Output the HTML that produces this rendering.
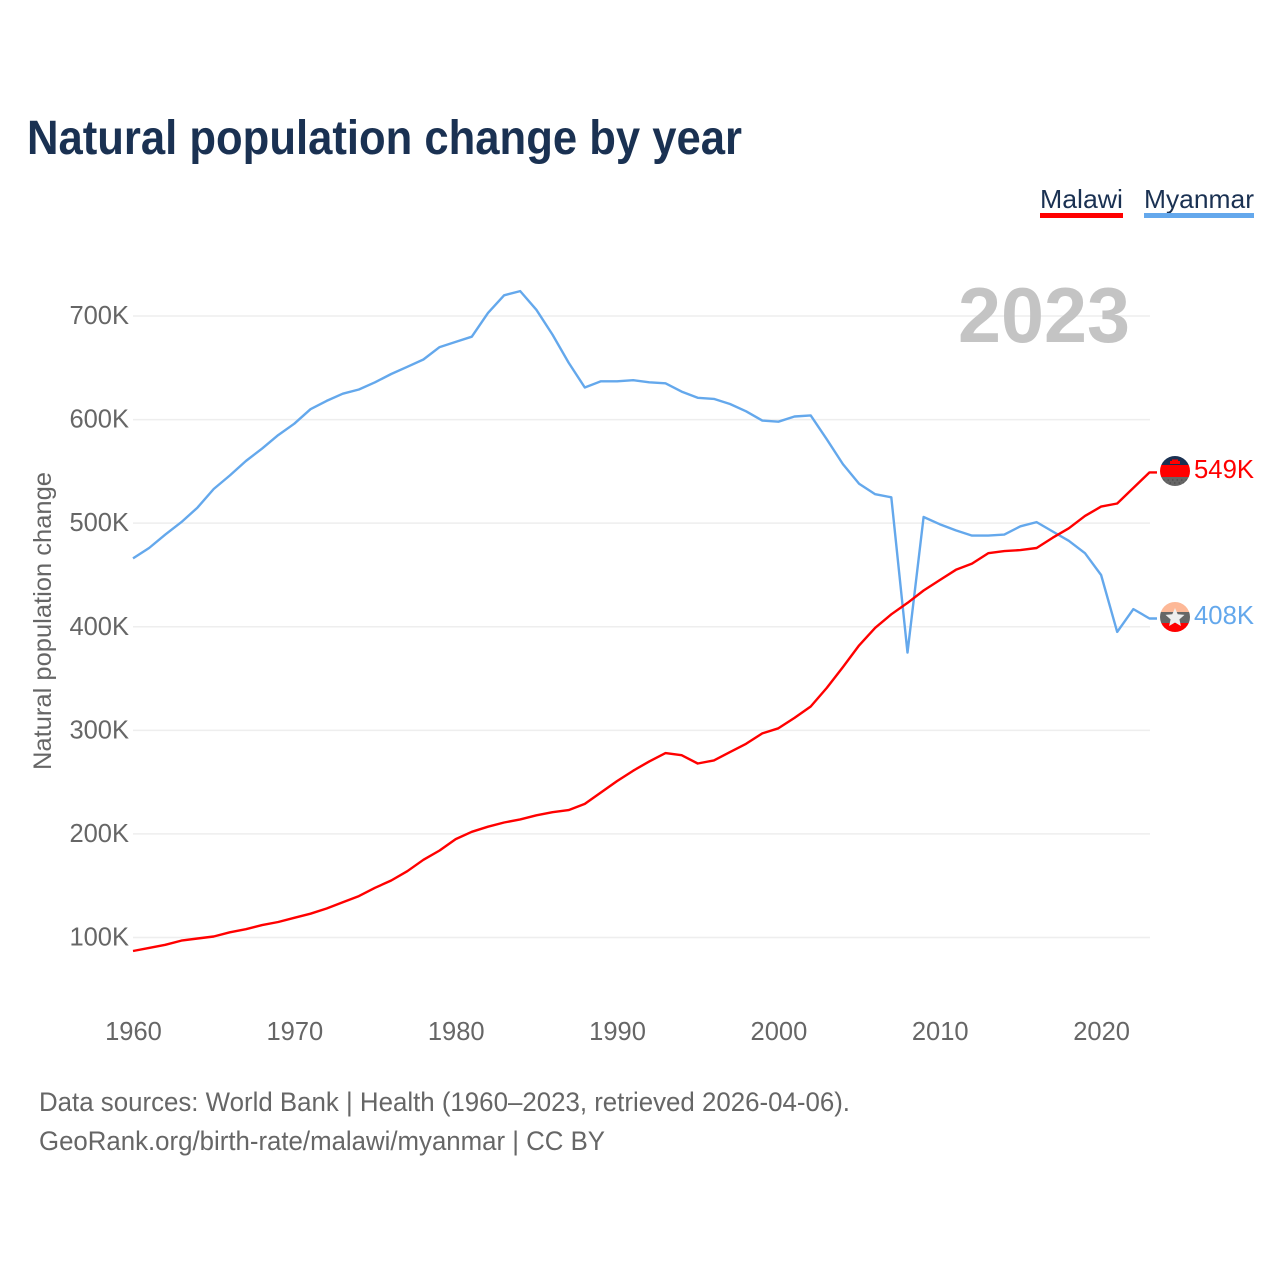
<!DOCTYPE html>
<html lang="en">
<head>
<meta charset="utf-8">
<title>Natural population change by year</title>
<style>
html,body{margin:0;padding:0;background:#fff;}
svg{display:block;font-family:"Liberation Sans",sans-serif;}
</style>
</head>
<body>
<svg id="chart" width="1280" height="1280" viewBox="0 0 1280 1280" xmlns="http://www.w3.org/2000/svg">
  <defs>
    <clipPath id="flag-clip-a"><circle cx="1175" cy="471" r="15"></circle></clipPath>
    <clipPath id="flag-clip-b"><circle cx="1175" cy="617" r="15"></circle></clipPath>
  </defs>
  <text x="27" y="154" font-size="48" font-weight="700" fill="#1a3152" textLength="715" lengthAdjust="spacingAndGlyphs">Natural population change by year</text>

  <g>
    <text x="1040" y="208" font-size="26" fill="#1a3152" textLength="83" lengthAdjust="spacingAndGlyphs">Malawi</text>
    <rect x="1040" y="213" width="83" height="5" fill="#ff0000"></rect>
  </g>
  <g>
    <text x="1144" y="208" font-size="26" fill="#1a3152" textLength="110" lengthAdjust="spacingAndGlyphs">Myanmar</text>
    <rect x="1144" y="213" width="110" height="5" fill="#64a8ec"></rect>
  </g>

  <g id="grid"></g>
  <text x="1130" y="342" font-size="78" font-weight="700" fill="#c4c4c4" text-anchor="end" textLength="172" lengthAdjust="spacingAndGlyphs">2023</text>
  <g id="yticks"></g>
  <g id="xticks"></g>
  <text transform="translate(51,621) rotate(-90)" font-size="25" fill="#666666" text-anchor="middle" textLength="298" lengthAdjust="spacingAndGlyphs">Natural population change</text>
  <g id="series"></g>

  <g clip-path="url(#flag-clip-a)">
    <rect x="1160" y="456" width="30" height="9" fill="#1a3152"></rect>
    <rect x="1170" y="461" width="10" height="3" fill="#ff0000"></rect>
    <rect x="1172" y="459.500" width="6" height="2" fill="#ff0000"></rect>
    <rect x="1160" y="465" width="30" height="12" fill="#ff0000"></rect>
    <rect x="1160" y="477" width="30" height="10" fill="#666666"></rect>
    <path d="M1163 480h24M1165 483h20" stroke="#444" stroke-width="1" stroke-dasharray="1.500 3"></path>
  </g>
  <g clip-path="url(#flag-clip-b)">
    <rect x="1160" y="602" width="30" height="10" fill="#fdb897"></rect>
    <rect x="1160" y="612" width="30" height="11" fill="#666666"></rect>
    <rect x="1160" y="623" width="30" height="10" fill="#ff0000"></rect>
    <polygon points="1175,608 1177.700,614.300 1184.500,614.900 1179.400,619.400 1180.900,626 1175,622.500 1169.100,626 1170.600,619.400 1165.500,614.900 1172.300,614.300" fill="#eeeeee"></polygon>
  </g>

  <text id="end-a" x="1254" y="478" font-size="26" fill="#ff0000" text-anchor="end" textLength="60" lengthAdjust="spacingAndGlyphs">549K</text>
  <text id="end-b" x="1254" y="624" font-size="26" fill="#64a8ec" text-anchor="end" textLength="60" lengthAdjust="spacingAndGlyphs">408K</text>

  <text x="39" y="1111" font-size="27" fill="#666666" textLength="811" lengthAdjust="spacingAndGlyphs">Data sources: World Bank | Health (1960–2023, retrieved 2026-04-06).</text>
  <text x="39" y="1150" font-size="27" fill="#666666" textLength="566" lengthAdjust="spacingAndGlyphs">GeoRank.org/birth-rate/malawi/myanmar | CC BY</text>
</svg>
<script>
const startYear = 1960;
const malawi = [87,90,93,97,99,101,105,108,112,115,119,123,128,134,140,148,155,164,175,184,195,202,207,211,214,218,221,223,229,240,251,261,270,278,276,268,271,279,287,297,302,312,323,341,361,382,399,412,423,435,445,455,461,471,473,474,476,486,495,507,516,519,534,549];
const myanmar = [466,476,489,501,515,533,546,560,572,585,596,610,618,625,629,636,644,651,658,670,675,680,703,720,724,706,682,655,631,637,637,638,636,635,627,621,620,615,608,599,598,603,604,581,557,538,528,525,375,506,499,493,488,488,489,497,501,492,483,471,450,395,417,408];
const yTickValues = [100,200,300,400,500,600,700];
const xTickYears = [1960,1970,1980,1990,2000,2010,2020];

const SVG_NS = 'http://www.w3.org/2000/svg';
function xScale(year) { return 133 + (year - 1960) * (1149.5 - 133) / 63; }
function yScale(value) { return 937.5 - (value - 100) * (937.5 - 316) / 600; }
function make(tag, attrs, parentId) {
  const el = document.createElementNS(SVG_NS, tag);
  for (const k in attrs) el.setAttribute(k, attrs[k]);
  document.getElementById(parentId).appendChild(el);
  return el;
}

yTickValues.forEach(function (v) {
  const line = make('line', {x1: 133, x2: 1150, y1: yScale(v), y2: yScale(v), stroke: '#eeeeee', 'stroke-width': 1.5}, 'grid');
  
  
  const label = make('text', {x: 129, y: yScale(v) + 8, 'font-size': 25.5, fill: '#666666', 'text-anchor': 'end'}, 'yticks');
  
  
  label.textContent = v + 'K';
});

xTickYears.forEach(function (year) {
  const label = make('text', {x: 133.5 + (year - 1960) * 16.135, y: 1040, 'font-size': 25.5, fill: '#666666', 'text-anchor': 'middle'}, 'xticks');
  
  
  label.textContent = year;
});

function drawSeries(values, color) {
  const pts = values.map(function (v, i) { return xScale(startYear + i).toFixed(1) + ',' + yScale(v).toFixed(1); });
  const lastY = yScale(values[values.length - 1]).toFixed(1);
  pts.push('1157,' + lastY);
  return make('polyline', {points: pts.join(' '), fill: 'none', stroke: color, 'stroke-width': 2.4, 'stroke-linejoin': 'round'}, 'series');
}
const myanmarLine = drawSeries(myanmar, '#64a8ec');


const malawiLine = drawSeries(malawi, '#ff0000');


</script>
</body>
</html>
